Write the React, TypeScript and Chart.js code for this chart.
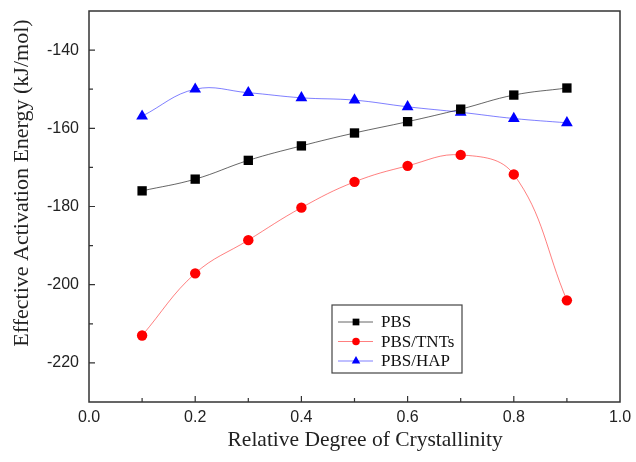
import React, { useEffect, useRef } from 'react';
import { Chart, registerables } from 'chart.js';

Chart.register(...registerables);

// Relative degree of crystallinity (x) and effective activation energy (kJ/mol)
const crystallinity = [0.1, 0.2, 0.3, 0.4, 0.5, 0.6, 0.7, 0.8, 0.9];
const pbs = [-176.0, -173.0, -168.2, -164.5, -161.2, -158.3, -155.1, -151.5, -149.7];
const pbsTnts = [-213.0, -197.1, -188.6, -180.3, -173.7, -169.6, -166.8, -171.8, -204.0];
const pbsHap = [-156.9, -150.0, -150.9, -152.2, -152.8, -154.5, -155.9, -157.5, -158.6];

const seriesNames = ['PBS', 'PBS/TNTs', 'PBS/HAP'];
const seriesValues = [pbs, pbsTnts, pbsHap];
const markerColors = ['#000000', '#ff0000', '#0000ff'];
const lineColors = ['rgba(0,0,0,0.6)', 'rgba(255,0,0,0.5)', 'rgba(0,0,255,0.5)'];
const markerStyles = ['rect', 'circle', 'triangle'] as const;
const markerRadius = [6.6, 5.2, 6.8];

const yMin = -230;
const yMax = -130;
const yTitle = 'Effective Activation Energy (kJ/mol)';
const xTitle = 'Relative Degree of Crystallinity';
const serif = '"Liberation Serif", "Times New Roman", serif';
const sans = '"Liberation Sans", Arial, sans-serif';

function drawMarker(ctx: CanvasRenderingContext2D, style: string, x: number, y: number, r: number) {
  ctx.beginPath();
  if (style === 'rect') {
    const h = r / Math.SQRT2;
    ctx.rect(x - h, y - h, 2 * h, 2 * h);
  } else if (style === 'circle') {
    ctx.arc(x, y, r, 0, Math.PI * 2);
  } else {
    ctx.moveTo(x, y - r);
    ctx.lineTo(x + r * Math.cos(Math.PI / 6), y + r / 2);
    ctx.lineTo(x - r * Math.cos(Math.PI / 6), y + r / 2);
    ctx.closePath();
  }
  ctx.fill();
}

// Frame, inward major/minor ticks on the bottom and left axes, and axis titles
const framePlugin = {
  id: 'frameTicks',
  afterDatasetsDraw(chart: any) {
    const { ctx, chartArea: a, scales } = chart;
    ctx.save();
    ctx.strokeStyle = '#333';
    ctx.lineWidth = 1.5;
    ctx.strokeRect(a.left, a.top, a.right - a.left, a.bottom - a.top);
    ctx.lineWidth = 1.2;
    ctx.beginPath();
    scales.x.ticks.forEach((t: any, i: number) => {
      const px = scales.x.getPixelForValue(t.value);
      if (px <= a.left + 1 || px >= a.right - 1) return;
      const len = i % 2 === 0 ? 6 : 4;
      ctx.moveTo(px, a.bottom);
      ctx.lineTo(px, a.bottom - len);
    });
    scales.y.ticks.forEach((t: any) => {
      const py = scales.y.getPixelForValue(t.value);
      if (py <= a.top + 1 || py >= a.bottom - 1) return;
      const len = Math.round(t.value) % 20 === 0 ? 6 : 4;
      ctx.moveTo(a.left, py);
      ctx.lineTo(a.left + len, py);
    });
    ctx.stroke();

    ctx.fillStyle = '#222';
    ctx.font = `21.5px ${serif}`;
    ctx.textAlign = 'center';
    ctx.textBaseline = 'middle';
    // horizontal axis title
    ctx.fillText(xTitle, a.left + (a.right - a.left) * 0.52, 440);
    // vertical axis title, rotated
    ctx.font = `22px ${serif}`;
    ctx.translate(22, a.top + (a.bottom - a.top) * 0.44);
    ctx.rotate(-Math.PI / 2);
    ctx.fillText(yTitle, 0, 0);
    ctx.restore();
  },
};

// Boxed legend with line-marker-line samples
const legendPlugin = {
  id: 'boxLegend',
  afterDraw(chart: any) {
    const { ctx } = chart;
    const bx = 332;
    const by = 305;
    const bw = 130;
    const bh = 68;
    ctx.save();
    ctx.fillStyle = '#fff';
    ctx.fillRect(bx, by, bw, bh);
    ctx.strokeStyle = '#444';
    ctx.lineWidth = 1.2;
    ctx.strokeRect(bx, by, bw, bh);
    ctx.font = `17px ${serif}`;
    ctx.textBaseline = 'middle';
    seriesNames.forEach((name, i) => {
      const y = by + 17 + i * 19.5;
      ctx.strokeStyle = lineColors[i];
      ctx.lineWidth = 1;
      ctx.beginPath();
      ctx.moveTo(bx + 6, y);
      ctx.lineTo(bx + 41, y);
      ctx.stroke();
      ctx.fillStyle = markerColors[i];
      drawMarker(ctx, markerStyles[i], bx + 24, y, markerRadius[i] * 0.72);
      ctx.fillStyle = '#111';
      ctx.fillText(name, bx + 49, y + 1);
    });
    ctx.restore();
  },
};

export default function App() {
  const canvasRef = useRef<HTMLCanvasElement | null>(null);

  useEffect(() => {
    if (!canvasRef.current) return;
    const datasets = seriesValues.map((vals, i) => ({
      label: seriesNames[i],
      data: vals.map((v, k) => ({ x: crystallinity[k], y: v })),
      showLine: true,
      borderColor: lineColors[i],
      borderWidth: 1,
      tension: 0.4,
      pointStyle: markerStyles[i],
      pointRadius: markerRadius[i],
      pointBackgroundColor: markerColors[i],
      pointBorderColor: markerColors[i],
      pointBorderWidth: 0,
    }));

    const chart = new Chart(canvasRef.current, {
      type: 'scatter',
      data: { datasets },
      options: {
        animation: false,
        responsive: false,
        events: [],
        layout: { padding: { top: 11, right: 16, left: 0, bottom: 0 } },
        plugins: { legend: { display: false }, tooltip: { enabled: false } },
        scales: {
          x: {
            type: 'linear',
            min: 0,
            max: 1,
            grid: { display: false, drawTicks: false },
            border: { display: false },
            afterFit: (s: any) => {
              s.height = 60;
              s.paddingLeft = 0;
              s.paddingRight = 0;
            },
            ticks: {
              stepSize: 0.1,
              autoSkip: false,
              maxRotation: 0,
              padding: 6,
              color: '#222',
              font: { family: sans, size: 16 },
              callback: (v: any, i: number) => (i % 2 === 0 ? Number(v).toFixed(1) : ''),
            },
          },
          y: {
            type: 'linear',
            min: yMin,
            max: yMax,
            grid: { display: false, drawTicks: false },
            border: { display: false },
            afterFit: (s: any) => {
              s.width = 89;
              s.paddingTop = 0;
              s.paddingBottom = 0;
            },
            ticks: {
              stepSize: 10,
              autoSkip: false,
              padding: 10,
              color: '#222',
              font: { family: sans, size: 16 },
              callback: (v: any) => (Math.round(Number(v)) % 20 === 0 ? String(v) : ''),
            },
          },
        },
      },
      plugins: [framePlugin, legendPlugin],
    });
    return () => chart.destroy();
  }, []);

  return (
    <div style={{ position: 'fixed', left: 0, top: 0, width: 636, height: 462, background: '#fff' }}>
      <canvas ref={canvasRef} width={636} height={462} />
    </div>
  );
}
